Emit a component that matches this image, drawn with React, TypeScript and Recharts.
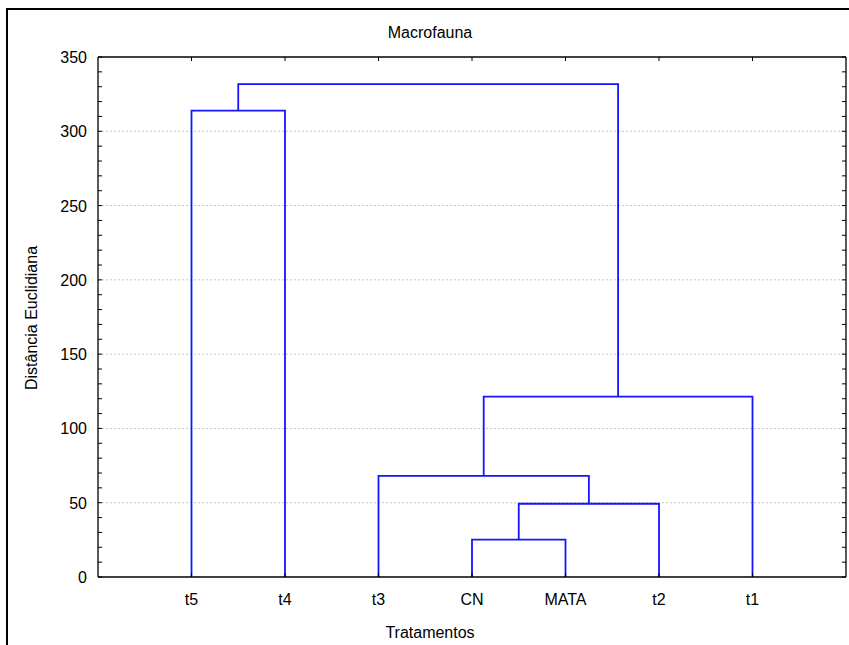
import { LineChart, Line, XAxis, YAxis, ReferenceLine } from 'recharts'

// leaves, left to right
const leafLabels = ['t5', 't4', 't3', 'CN', 'MATA', 't2', 't1']

// joining steps (leaf index 0..6, new clusters get 7, 8, ...)
const mergeA = [3, 7, 2, 9, 0, 11]
const mergeB = [4, 5, 8, 6, 1, 10]
const mergeHeight = [25.1, 49.3, 68.0, 121.4, 313.9, 331.8]

const yTicks = [0, 10, 20, 30, 40, 50, 60, 70, 80, 90, 100, 110, 120, 130, 140, 150, 160, 170, 180, 190, 200, 210, 220, 230, 240, 250, 260, 270, 280, 290, 300, 310, 320, 330, 340, 350]
const yLabels = [0, 50, 100, 150, 200, 250, 300, 350]
const gridValues = [50, 100, 150, 200, 250, 300]
const xTicks = [1, 2, 3, 4, 5, 6, 7]

type Pt = { x: number; y: number }

const nodeX: number[] = leafLabels.map((_, i) => i + 1)
const nodeY: number[] = leafLabels.map(() => 0)
const links: Pt[][] = mergeA.map((a, k) => {
  const b = mergeB[k]
  const h = mergeHeight[k]
  const pts = [
    { x: nodeX[a], y: nodeY[a] },
    { x: nodeX[a], y: h },
    { x: nodeX[b], y: h },
    { x: nodeX[b], y: nodeY[b] },
  ]
  nodeX.push((nodeX[a] + nodeX[b]) / 2)
  nodeY.push(h)
  return pts
})

const font = '"Liberation Sans", Arial, sans-serif'
const blue = '#1515ff'
const TL = 4

// ticks drawn inward, labels outside
const BottomTick = (p: any) => (
  <g>
    <line x1={p.x} y1={p.y} x2={p.x} y2={p.y - TL} stroke="#000" />
    <text x={p.x} y={p.y + 28} textAnchor="middle" fill="#000" fontSize={16} fontFamily={font}>
      {leafLabels[p.payload.value - 1]}
    </text>
  </g>
)
const TopTick = (p: any) => <line x1={p.x} y1={p.y} x2={p.x} y2={p.y + TL} stroke="#000" />
const LeftTick = (p: any) => (
  <g>
    <line x1={p.x} y1={p.y} x2={p.x + TL} y2={p.y} stroke="#000" />
    {yLabels.includes(p.payload.value) && (
      <text x={p.x - 11} y={p.y + 6} textAnchor="end" fill="#000" fontSize={16} fontFamily={font}>
        {p.payload.value}
      </text>
    )}
  </g>
)
const RightTick = (p: any) => <line x1={p.x} y1={p.y} x2={p.x - TL} y2={p.y} stroke="#000" />

export default function App() {
  return (
    <div style={{ position: 'fixed', left: 0, top: 0, width: 849, height: 645, overflow: 'hidden', background: '#fff', fontFamily: font }}>
      <div style={{ position: 'absolute', left: 6, top: 8, width: 900, height: 900, border: '2px solid #000' }} />
      <div style={{ position: 'absolute', left: 280, top: 24, width: 300, textAlign: 'center', fontSize: 16, color: '#000' }}>Macrofauna</div>
      <div style={{ position: 'absolute', left: 280, top: 624, width: 300, textAlign: 'center', fontSize: 16, color: '#000' }}>Tratamentos</div>
      <div style={{ position: 'absolute', left: 32 - 150, top: 318 - 10, width: 300, height: 20, lineHeight: '20px', textAlign: 'center', fontSize: 16, color: '#000', transform: 'rotate(-90deg)' }}>Distância Euclidiana</div>
      <div style={{ position: 'absolute', left: 0, top: 0 }}>
        <LineChart width={849} height={645} margin={{ top: 56, right: 2, bottom: 38, left: 0 }}>
          {gridValues.map((v) => (
            <ReferenceLine key={v} y={v} stroke="#c4c4c4" strokeDasharray="2 2" />
          ))}
          <XAxis
            type="number"
            dataKey="x"
            domain={[0, 8]}
            ticks={xTicks}
            interval={0}
            allowDataOverflow
            height={30}
            tickSize={0}
            tickMargin={0}
            tick={BottomTick}
            tickLine={false}
            axisLine={{ stroke: '#000', strokeWidth: 1.3 }}
          />
          <XAxis
            xAxisId="top"
            orientation="top"
            type="number"
            dataKey="x"
            domain={[0, 8]}
            ticks={xTicks}
            interval={0}
            allowDataOverflow
            height={1}
            tickSize={0}
            tickMargin={0}
            tick={TopTick}
            tickLine={false}
            axisLine={{ stroke: '#000', strokeWidth: 1.3 }}
          />
          <YAxis
            type="number"
            domain={[0, 350]}
            ticks={yTicks}
            interval={0}
            allowDataOverflow
            width={98}
            tickSize={0}
            tickMargin={0}
            tick={LeftTick}
            tickLine={false}
            axisLine={{ stroke: '#000', strokeWidth: 1.3 }}
          />
          <YAxis
            yAxisId="right"
            orientation="right"
            type="number"
            domain={[0, 350]}
            ticks={yTicks}
            interval={0}
            allowDataOverflow
            width={1}
            tickSize={0}
            tickMargin={0}
            tick={RightTick}
            tickLine={false}
            axisLine={{ stroke: '#000', strokeWidth: 1.3 }}
          />
          {links.map((pts, i) => (
            <Line
              key={'f' + i}
              xAxisId="top"
              yAxisId="right"
              data={pts}
              dataKey="y"
              type="linear"
              stroke="none"
              dot={false}
              activeDot={false}
              isAnimationActive={false}
            />
          ))}
          {links.map((pts, i) => (
            <Line
              key={i}
              data={pts}
              dataKey="y"
              type="linear"
              stroke={blue}
              strokeWidth={1.8}
              dot={false}
              activeDot={false}
              isAnimationActive={false}
            />
          ))}
        </LineChart>
      </div>
    </div>
  )
}
